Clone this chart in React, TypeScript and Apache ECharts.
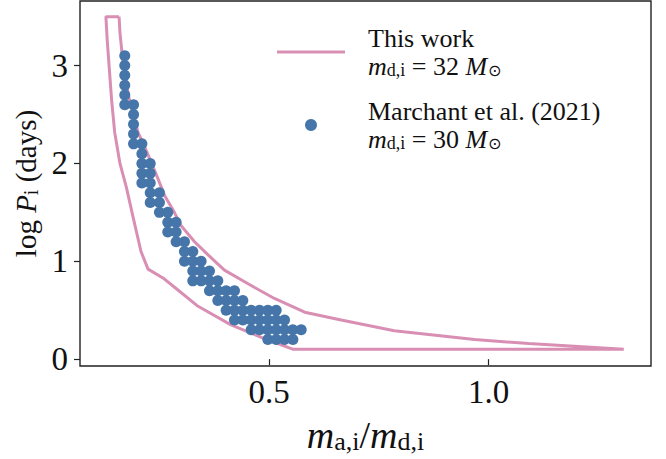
import React, { useEffect, useRef } from "react";
import * as echarts from "echarts";

// "This work" contour: upper (right) boundary from top to bottom
const upperX = [0.158, 0.160, 0.166, 0.180, 0.201, 0.221, 0.247, 0.262, 0.284, 0.300, 0.330, 0.362, 0.398, 0.452, 0.512, 0.581, 0.664, 0.785, 0.968, 1.091, 1.205, 1.308];
const upperY = [3.50, 3.34, 3.07, 2.68, 2.32, 2.12, 1.84, 1.67, 1.50, 1.36, 1.20, 1.06, 0.91, 0.77, 0.62, 0.48, 0.40, 0.29, 0.20, 0.16, 0.13, 0.10];
// lower (left) boundary from top to bottom
const lowerX = [0.128, 0.131, 0.141, 0.148, 0.160, 0.175, 0.189, 0.208, 0.224, 0.258, 0.283, 0.338, 0.413, 0.489, 0.555];
const lowerY = [3.50, 3.26, 2.65, 2.32, 2.00, 1.75, 1.47, 1.10, 0.92, 0.83, 0.74, 0.54, 0.35, 0.21, 0.10];

// Marchant et al. (2021) points: each row is a log P value with its mass ratios
const marchantLogP = [3.1, 3.0, 2.9, 2.8, 2.7, 2.6, 2.5, 2.4, 2.3, 2.2, 2.1, 2.0, 1.9, 1.8, 1.7, 1.6, 1.5, 1.4, 1.3, 1.2, 1.1, 1.0, 0.9, 0.8, 0.7, 0.6, 0.5, 0.4, 0.3, 0.2];
const marchantQ = [
  [0.171],
  [0.171],
  [0.171],
  [0.171],
  [0.171],
  [0.171, 0.191],
  [0.191],
  [0.191],
  [0.191],
  [0.191, 0.210],
  [0.210],
  [0.210, 0.229],
  [0.210, 0.229],
  [0.210, 0.229],
  [0.229, 0.250],
  [0.229, 0.250],
  [0.250, 0.269],
  [0.269, 0.288],
  [0.269, 0.288],
  [0.288, 0.307],
  [0.307, 0.326],
  [0.307, 0.326, 0.345],
  [0.326, 0.345, 0.364],
  [0.326, 0.345, 0.364, 0.383],
  [0.364, 0.383, 0.402, 0.421],
  [0.383, 0.402, 0.421, 0.440],
  [0.402, 0.421, 0.440, 0.459, 0.478, 0.497, 0.516],
  [0.421, 0.440, 0.459, 0.478, 0.497, 0.516, 0.535],
  [0.459, 0.478, 0.497, 0.516, 0.535, 0.554, 0.573],
  [0.497, 0.516, 0.535, 0.554],
];

const xTicks = [0.5, 1.0];
const yTicks = [0, 1, 2, 3];

const FONT = "'Liberation Serif', 'DejaVu Serif', serif";
const PINK = "#d98fb4";
const BLUE = "#4575a9";
const INK = "#111111";

function richSet(size: number, subSize: number, drop: number) {
  return {
    it: { fontFamily: FONT, fontSize: size, fontStyle: "italic", color: INK, lineHeight: size + 2 },
    rm: { fontFamily: FONT, fontSize: size, color: INK, lineHeight: size + 2 },
    sub: { fontFamily: FONT, fontSize: subSize, color: INK, padding: [drop * 2, 0, 0, 0], lineHeight: size + 2 },
    sun: { fontFamily: "'DejaVu Sans', sans-serif", fontSize: subSize - 2, color: INK, padding: [drop * 2, 0, 0, 1], lineHeight: size + 2 },
  };
}

export default function App() {
  const ref = useRef<HTMLDivElement>(null);

  useEffect(() => {
    if (!ref.current) return;
    const chart = echarts.init(ref.current, null, { renderer: "svg" });

    const contour: number[][] = [];
    upperX.forEach((x, i) => contour.push([x, upperY[i]]));
    for (let i = lowerX.length - 1; i >= 0; i--) contour.push([lowerX[i], lowerY[i]]);
    contour.push([upperX[0], upperY[0]]);

    const pts: number[][] = [];
    marchantLogP.forEach((y, i) => marchantQ[i].forEach((x) => pts.push([x, y])));

    const option = {
      animation: false,
      backgroundColor: "#ffffff",
      textStyle: { fontFamily: FONT, color: INK },
      grid: {
        left: 80,
        right: 15,
        top: 1,
        bottom: 93,
        show: true,
        borderColor: "#222",
        borderWidth: 1.4,
        backgroundColor: "transparent",
      },
      xAxis: {
        type: "value",
        min: 0.069,
        max: 1.37,
        axisLine: { show: false },
        splitLine: { show: false },
        axisTick: {
          show: true,
          inside: false,
          length: 6,
          customValues: xTicks,
          lineStyle: { color: "#222", width: 1.2 },
        },
        axisLabel: {
          customValues: xTicks,
          formatter: (v: number) => v.toFixed(1),
          fontFamily: FONT,
          fontSize: 33,
          color: INK,
          margin: 9,
        },
        name: "{it|m}{sub|a,i}{rm|/}{it|m}{sub|d,i}",
        nameLocation: "middle",
        nameGap: 49,
        nameTextStyle: { fontFamily: FONT, fontSize: 38, color: INK, rich: richSet(38, 26, 6) },
      },
      yAxis: {
        type: "value",
        min: -0.07,
        max: 3.66,
        axisLine: { show: false },
        splitLine: { show: false },
        axisTick: {
          show: true,
          inside: false,
          length: 6,
          customValues: yTicks,
          lineStyle: { color: "#222", width: 1.2 },
        },
        axisLabel: {
          customValues: yTicks,
          formatter: (v: number) => String(v),
          fontFamily: FONT,
          fontSize: 33,
          color: INK,
          margin: 12,
        },
        name: "{rm|log }{it|P}{sub|i}{rm| (days)}",
        nameLocation: "middle",
        nameRotate: 90,
        nameGap: 36,
        nameTextStyle: { fontFamily: FONT, fontSize: 29, color: INK, rich: richSet(29, 20, 5) },
      },
      legend: {
        orient: "vertical",
        left: 272,
        top: 20,
        itemWidth: 68,
        itemHeight: 12,
        itemGap: 19,
        symbolKeepAspect: true,
        data: [
          { name: "This work", icon: "path://M0,0H68V3H0Z" },
          { name: "Marchant et al. (2021)", icon: "circle" },
        ],
        formatter: (name: string) =>
          name === "This work"
            ? "{rm|This work}\n{it|m}{sub|d,i}{rm| = 32 }{it|M}{sun|⊙}"
            : "{rm|Marchant et al. (2021)}\n{it|m}{sub|d,i}{rm| = 30 }{it|M}{sun|⊙}",
        textStyle: {
          fontFamily: FONT,
          fontSize: 26,
          color: INK,
          padding: [0, 0, 0, 18],
          rich: richSet(26, 18, 4),
        },
      },
      series: [
        {
          name: "This work",
          type: "line",
          data: contour,
          symbol: "none",
          showSymbol: false,
          smooth: false,
          lineStyle: { color: PINK, width: 3 },
          itemStyle: { color: PINK },
          z: 2,
        },
        {
          name: "Marchant et al. (2021)",
          type: "scatter",
          data: pts,
          symbol: "circle",
          symbolSize: 11,
          itemStyle: { color: BLUE, opacity: 1 },
          z: 3,
        },
      ],
    };

    chart.setOption(option as any);
    return () => chart.dispose();
  }, []);

  return (
    <div
      ref={ref}
      style={{ position: "fixed", left: 0, top: 0, width: 666, height: 459, background: "#fff" }}
    />
  );
}
